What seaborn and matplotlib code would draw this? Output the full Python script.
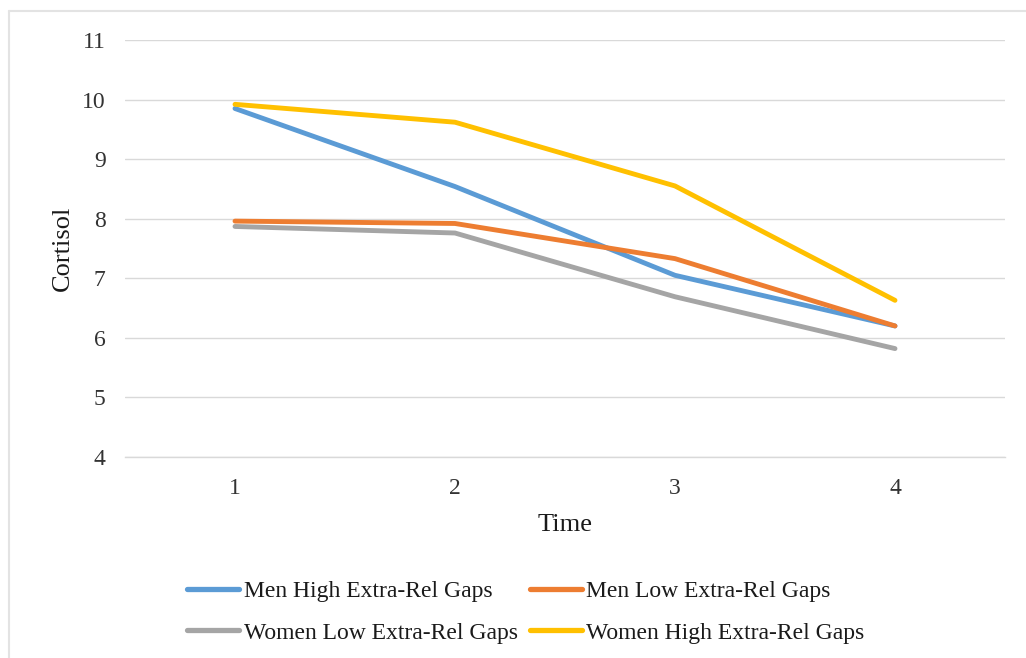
import matplotlib
matplotlib.use("Agg")
import matplotlib.pyplot as plt
import seaborn as sns
import pandas as pd
from matplotlib.lines import Line2D

# Cortisol means across four sampling times
times = [1, 2, 3, 4]
men_high = [9.85, 8.54, 7.05, 6.20]
men_low = [7.96, 7.92, 7.33, 6.20]
women_low = [7.87, 7.76, 6.69, 5.82]
women_high = [9.92, 9.62, 8.55, 6.63]

series_names = [
    "Men High Extra-Rel Gaps",
    "Men Low Extra-Rel Gaps",
    "Women Low Extra-Rel Gaps",
    "Women High Extra-Rel Gaps",
]
series_values = [men_high, men_low, women_low, women_high]
colors = ["#5B9BD5", "#ED7D31", "#A5A5A5", "#FFC000"]
y_ticks = [4, 5, 6, 7, 8, 9, 10, 11]

rows = []
for name, vals in zip(series_names, series_values):
    for t, v in zip(times, vals):
        rows.append({"Time": t, "Cortisol": v, "Series": name})
df = pd.DataFrame(rows)

sns.set_theme(style="white")
plt.rcParams["font.family"] = ["Liberation Serif", "DejaVu Serif"]

fig = plt.figure(figsize=(10.26, 6.58), dpi=100)
ax = fig.add_axes([125 / 1026, 1 - 457 / 658, 880 / 1026, 417 / 658])

sns.lineplot(
    data=df, x="Time", y="Cortisol", hue="Series",
    hue_order=series_names, palette=dict(zip(series_names, colors)),
    linewidth=3.5, ax=ax, legend=False, solid_capstyle="round",
)

ax.set_xlim(0.5, 4.5)
ax.set_ylim(4, 11)
ax.set_yticks(y_ticks)
ax.set_xticks(times)
ax.set_xticklabels([str(t) for t in times])
ax.yaxis.grid(True, color="#D9D9D9", linewidth=1.0)
ax.set_axisbelow(True)
for side in ["top", "right", "left"]:
    ax.spines[side].set_visible(False)
ax.spines["bottom"].set_color("#D9D9D9")
ax.spines["bottom"].set_linewidth(1.0)
ax.tick_params(axis="both", length=0, labelsize=17, colors="#333333")
ax.tick_params(axis="y", pad=14)
ax.tick_params(axis="x", pad=15)
ax.set_xlabel("Time", fontsize=19, color="#1a1a1a", labelpad=11)
ax.set_ylabel("Cortisol", fontsize=19, color="#1a1a1a", labelpad=6)

handles = [Line2D([0], [0], color=c, linewidth=3.8) for c in colors]
order = [0, 2, 1, 3]
fig.legend(
    [handles[i] for i in order], [series_names[i] for i in order],
    ncol=2, loc="center", bbox_to_anchor=(526 / 1026, 1 - 612 / 658),
    frameon=False, fontsize=17, handlelength=2.2, handletextpad=0.2,
    columnspacing=0.5, labelspacing=0.85, labelcolor="#1a1a1a",
)

# chart-area border
fig.add_artist(Line2D([9 / 1026, 1.0], [1 - 11 / 658] * 2, color="#E3E3E3",
                      linewidth=1.5, transform=fig.transFigure))
fig.add_artist(Line2D([9 / 1026] * 2, [0.0, 1 - 11 / 658], color="#E3E3E3",
                      linewidth=1.5, transform=fig.transFigure))

fig.savefig("out.png", dpi=100, facecolor="white")
